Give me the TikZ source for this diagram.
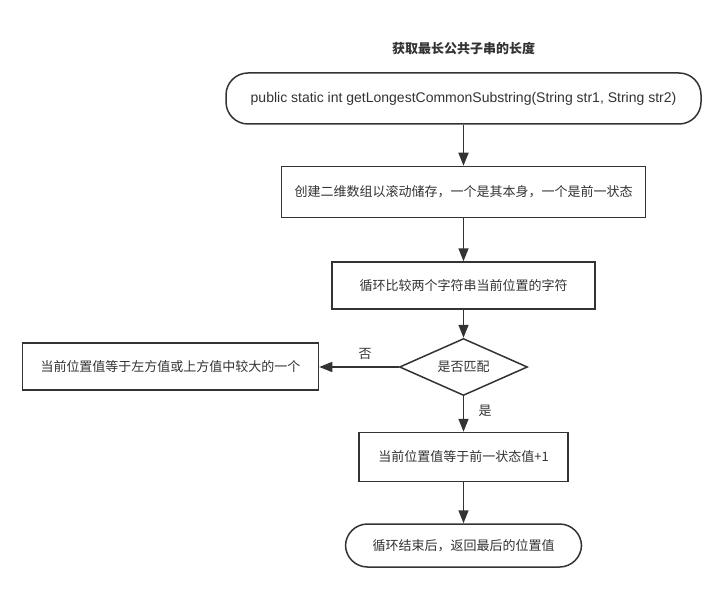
\documentclass[tikz,border=0pt]{standalone}
\usepackage{fontspec}
\setmainfont{Liberation Sans}
\newfontfamily\cjk{Noto Sans CJK SC}
\usetikzlibrary{shapes.geometric,arrows.meta}
\definecolor{ln}{HTML}{333333}
\definecolor{tx}{HTML}{333333}
\tikzset{
  base/.style={draw=ln, line width=1.5pt, inner sep=0pt, text=tx, font=\cjk\fontsize{13pt}{15pt}\selectfont, fill=white},
  procbox/.style={base, rectangle},
  termbox/.style={base, rectangle, rounded corners=22pt},
  decbox/.style={base, diamond, aspect=2.25},
  arr/.style={draw=ln, line width=1.5pt, -{Triangle[length=13pt,width=10pt]}},
  lbl/.style={text=tx, font=\cjk\fontsize{13pt}{15pt}\selectfont, inner sep=0pt}
}
\begin{document}
\begin{tikzpicture}[x=1pt,y=-1pt]
\useasboundingbox (0,0) rectangle (726,591);
\node[lbl, font=\cjk\bfseries\fontsize{13pt}{15pt}\selectfont] (title) at (463.5,49) {获取最长公共子串的长度};
\node[termbox, minimum width=475pt, minimum height=51pt] (start) at (463.5,98.5) {\fontspec{Liberation Sans}\fontsize{14pt}{16pt}\selectfont public static int getLongestCommonSubstring(String str1, String str2)};
\node[procbox, minimum width=364pt, minimum height=51pt] (init) at (463.5,192) {创建二维数组以滚动储存，一个是其本身，一个是前一状态};
\node[procbox, minimum width=263pt, minimum height=47pt] (loop) at (463.5,285.5) {循环比较两个字符串当前位置的字符};
\node[decbox, minimum width=128pt, minimum height=57pt] (dec) at (463.5,367) {是否匹配};
\node[procbox, minimum width=296pt, minimum height=47pt] (no) at (170.5,366.5) {当前位置值等于左方值或上方值中较大的一个};
\node[procbox, minimum width=209pt, minimum height=49pt] (yes) at (463.5,457) {当前位置值等于前一状态值+1};
\node[termbox, minimum width=236pt, minimum height=43pt] (end) at (463.5,545.5) {循环结束后，返回最后的位置值};
\draw[arr] (start) -- (init);
\draw[arr] (init) -- (loop);
\draw[arr] (loop) -- (dec);
\draw[arr] (dec.west) -- (no.east |- dec.west);
\draw[arr] (dec) -- (yes);
\draw[arr] (yes) -- (end);
\node[lbl] (lno) at (365,354) {否};
\node[lbl] (lyes) at (485,411) {是};
\end{tikzpicture}
\end{document}
